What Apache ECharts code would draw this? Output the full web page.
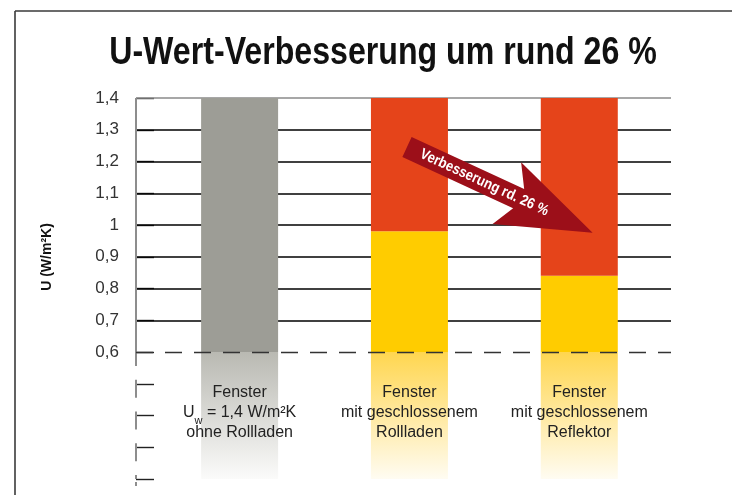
<!DOCTYPE html>
<html>
<head>
<meta charset="utf-8">
<script src="https://cdn.jsdelivr.net/npm/echarts@6/dist/echarts.min.js"></script>
<style>
html,body{margin:0;padding:0;background:#fff;}
#c{width:732px;height:495px;}
</style>
</head>
<body>
<div id="c"></div>
<script>
// ---- data ----
const titleText = 'U-Wert-Verbesserung um rund 26 %';
const yAxisTitle = 'U (W/m²K)';
const categories = [
  'Fenster\nUw = 1,4 W/m²K\nohne Rollladen',
  'Fenster\nmit geschlossenem\nRollladen',
  'Fenster\nmit geschlossenem\nReflektor'
];
const uWindow = 1.4;                 // U-value of the bare window
const uValues = [1.4, 0.98, 0.84];   // resulting U-values
const axisBreak = 0.6;               // lowest labelled value
const gridValues = [0.7, 0.8, 0.9, 1.0, 1.1, 1.2, 1.3, 1.4];
const yTickLabels = {0.6:'0,6',0.7:'0,7',0.8:'0,8',0.9:'0,9',1:'1',1.1:'1,1',1.2:'1,2',1.3:'1,3',1.4:'1,4'};
const arrowText = 'Verbesserung rd. 26 %';

// ---- styling ----
const SANS = "'Liberation Sans',Arial,sans-serif";
const X_MIN = 0.39, X_MAX = 3.54;
const Y_MIN = 0.2, Y_MAX = 1.4;
const barColors = ['#9d9d96', '#ffcc00', '#ffcc00'];
const fadeTop = ['#b9b9b2', '#ffd64f', '#ffd64f'];
const fadeEnd = ['#fbfbfa', '#fffcf2', '#fffcf2'];
const RED = '#e5441a';

function grad(top, end) {
  return new echarts.graphic.LinearGradient(0, 0, 0, 1, [
    {offset: 0, color: top},
    {offset: 1, color: end}
  ]);
}

// values are given as [y, x] so that stacking happens on the U dimension
const xs = categories.map((c, i) => i + 1);
const fadeData = xs.map((x, i) => ({value: [axisBreak, x], itemStyle: {color: grad(fadeTop[i], fadeEnd[i])}}));
const mainData = xs.map((x, i) => ({value: [+(uValues[i] - axisBreak).toFixed(4), x], itemStyle: {color: barColors[i]}}));
const redData = xs.map((x, i) => ({value: [+(uWindow - uValues[i]).toFixed(4), x], itemStyle: {color: RED}}));

function labelFor(i) {
  return categories[i].split('\n').map(line => {
    if (line.indexOf('Uw') === 0) return '{t|U}{w|w}{t|' + line.slice(2) + '}';
    return '{t|' + line + '}';
  }).join('\n');
}

const chart = echarts.init(document.getElementById('c'), null, {renderer: 'canvas'});
chart.setOption({
  animation: false,
  backgroundColor: '#ffffff',
  grid: {left: 136, right: 61, top: 98, bottom: 16},
  xAxis: {type: 'value', min: X_MIN, max: X_MAX, show: false},
  yAxis: {
    type: 'value', min: Y_MIN, max: Y_MAX, interval: 0.1,
    axisLine: {show: false},
    splitLine: {show: false},
    axisTick: {show: true, inside: true, length: 18, lineStyle: {color: '#222', width: 1.4}},
    axisLabel: {
      margin: 17, color: '#333', fontFamily: SANS, fontSize: 17,
      formatter: v => {
        const k = Math.round(v * 10) / 10;
        return k >= axisBreak - 1e-9 ? (yTickLabels[k] || '') : '';
      }
    }
  },
  series: [
    {
      name: 'fade', type: 'bar', stack: 'u', barWidth: 77, z: 2,
      encode: {x: 1, y: 0},
      data: fadeData,
      label: {
        show: true, position: ['50%', 31], align: 'center', verticalAlign: 'top',
        formatter: p => labelFor(p.dataIndex),
        lineHeight: 20,
        rich: {
          t: {fontFamily: SANS, fontSize: 16, color: '#222', lineHeight: 20},
          w: {fontFamily: SANS, fontSize: 11, color: '#222', lineHeight: 20, verticalAlign: 'bottom', padding: [0, 0, -3, 0]}
        }
      },
      markLine: {
        silent: true, z: 1, symbol: ['none', 'none'], label: {show: false},
        data: gridValues.map(v => ({yAxis: v, lineStyle: {color: v === Y_MAX ? '#8a8a8a' : '#000000', width: 1.5, type: 'solid'}}))
      }
    },
    {
      name: 'U', type: 'bar', stack: 'u', barWidth: 77, z: 2,
      encode: {x: 1, y: 0},
      data: mainData
    },
    {
      name: 'improvement', type: 'bar', stack: 'u', barWidth: 77, z: 2,
      encode: {x: 1, y: 0},
      data: redData,
      markLine: {
        silent: true, z: 6, symbol: ['none', 'none'], label: {show: false},
        data: [
          [{coord: [X_MIN, Y_MAX], lineStyle: {color: '#8d8d8d', width: 2, type: 'solid'}}, {coord: [X_MIN, axisBreak]}],
          [{coord: [X_MIN, axisBreak], lineStyle: {color: '#8d8d8d', width: 2, type: [18, 13.75], dashOffset: 4}}, {coord: [X_MIN, Y_MIN]}],
          [{coord: [X_MIN, axisBreak], lineStyle: {color: '#333', width: 1.4, type: [17, 12]}}, {coord: [X_MAX, axisBreak]}]
        ]
      }
    }
  ],
  graphic: [
    {type: 'text', z: 50, x: 383, y: 53, scaleX: 0.824,
      style: {text: titleText, font: "bold 39px 'Liberation Sans',Arial,sans-serif", fill: '#111', align: 'center', verticalAlign: 'middle'}},
    {type: 'line', z: 50, shape: {x1: 15, y1: 11, x2: 732, y2: 11}, style: {stroke: '#3a3a3a', lineWidth: 1.6}},
    {type: 'line', z: 50, shape: {x1: 15, y1: 11, x2: 15, y2: 495}, style: {stroke: '#3a3a3a', lineWidth: 1.6}},
    {type: 'line', z: 50, shape: {x1: 136, y1: 482, x2: 136, y2: 495}, style: {stroke: '#8d8d8d', lineWidth: 2, lineDash: [18, 13.75], lineDashOffset: 14}},
    {type: 'text', z: 50, x: 47, y: 257, rotation: Math.PI / 2,
      style: {text: yAxisTitle, font: "bold 14px 'Liberation Sans',Arial,sans-serif", fill: '#111', align: 'center', verticalAlign: 'middle'}},
    {type: 'group', z: 60, x: 407, y: 147, rotation: -0.433, children: [
      {type: 'polygon', z: 60, shape: {points: [[0, -11], [124, -11], [110, -34], [204.5, 0], [110, 34], [122, 11], [0, 11]]},
        style: {fill: '#9c0f19'}},
      {type: 'text', z: 61, x: 85, y: 0, scaleX: 0.87,
        style: {text: arrowText, font: "bold 15px 'Liberation Sans',Arial,sans-serif", fill: '#ffffff', align: 'center', verticalAlign: 'middle'}}
    ]}
  ]
});
</script>
</body>
</html>
